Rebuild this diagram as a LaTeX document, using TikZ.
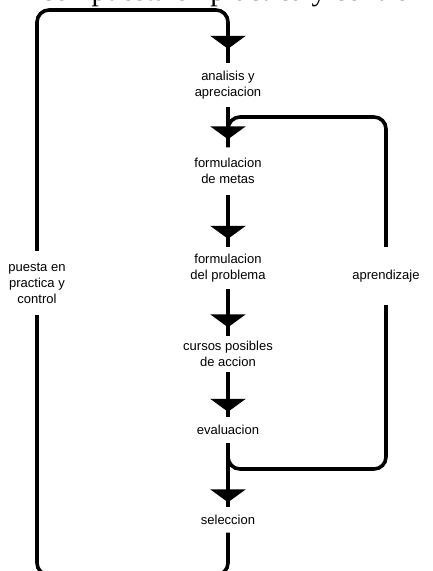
\documentclass[tikz,border=0pt]{standalone}
\usepackage{fontspec}
\setmainfont{Liberation Sans}
\newfontfamily\titlefont{Liberation Serif}
\usetikzlibrary{arrows.meta,decorations.markings}

\tikzset{
  flow/.style={line width=3.6pt, rounded corners=12pt},
  stepbox/.style={align=center, inner sep=0pt, font=\fontsize{13}{16}\selectfont},
  headat/.style={postaction={decorate},
    decoration={markings, mark=at position -#1 with {\arrow{Triangle[width=35pt,length=13pt]}}}},
}

\begin{document}
\begin{tikzpicture}[x=1pt,y=-1pt]
\useasboundingbox (0,0) rectangle (432,571);
\clip (0,0) rectangle (432,571);

% heading line running off the top edge
\node[anchor=base west, inner sep=0pt, font=\titlefont\fontsize{29.7}{32}\selectfont] (title) at (41,0.5) {con puesta en practica y control};

% steps of the process
\node[stepbox, minimum height=44pt] (ana) at (228,85) {analisis y\\apreciacion};
\node[stepbox, minimum height=47pt] (metas) at (228,171) {formulacion\\de metas};
\node[stepbox, minimum height=42pt] (prob) at (228,268) {formulacion\\del problema};
\node[stepbox, minimum height=35pt] (cursos) at (228,354) {cursos posibles\\de accion};
\node[stepbox, minimum height=26pt] (eval) at (228,430) {evaluacion};
\node[stepbox, minimum height=25pt] (sel) at (228,520) {seleccion};

% loop labels
\node[stepbox, minimum height=64pt] (pec) at (37,283) {puesta en\\practica y\\control};
\node[stepbox, minimum height=58pt] (apr) at (386,276) {aprendizaje};

% loop corners
\coordinate (tc) at (228,10);
\coordinate (bc) at (37,575);
\coordinate (rt) at (386,117);
\coordinate (rb) at (386,469);

% feedback loops
\draw[flow] (sel.south) |- (bc) -- (pec.south);
\draw[flow] (apr.north) -- (rt) -| (metas.north);
\draw[flow] (eval.south) |- (rb) -- (apr.south);

% main flow
\draw[flow, headat=14pt] (pec.north) |- (tc) -- (ana.north);
\draw[flow, headat=8pt] (ana.south) -- (metas.north);
\draw[flow, headat=8pt] (metas.south) -- (prob.north);
\draw[flow, headat=9pt] (prob.south) -- (cursos.north);
\draw[flow, headat=5pt] (cursos.south) -- (eval.north);
\draw[flow, headat=5pt] (eval.south) -- (sel.north);
\end{tikzpicture}
\end{document}
